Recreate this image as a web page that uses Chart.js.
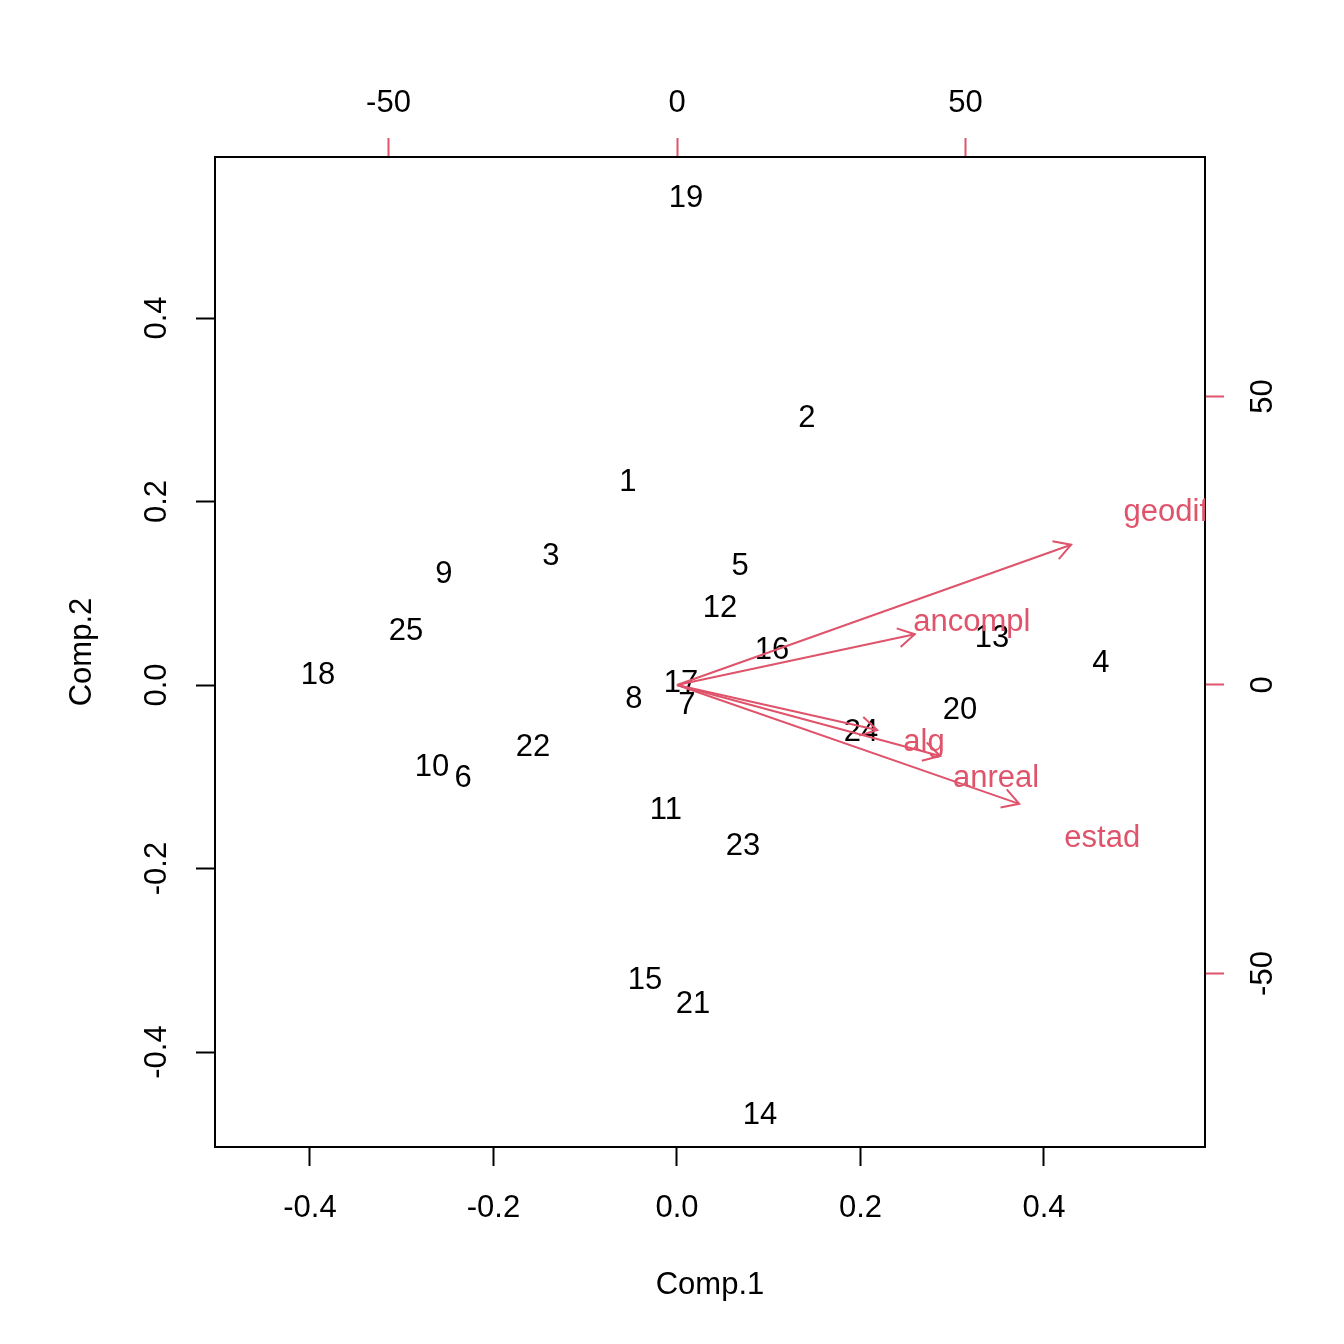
<!DOCTYPE html>
<html>
<head>
<meta charset="utf-8">
<title>biplot</title>
<script src="https://cdn.jsdelivr.net/npm/chart.js@4.4.1/dist/chart.umd.min.js"></script>
<style>
  html, body { margin: 0; padding: 0; background: #fff; }
  canvas { display: block; }
</style>
</head>
<body>
<canvas id="biplot" width="1344" height="1344"></canvas>
<script>
// observation scores (bottom / left axes)
var obsLabels = ['1', '2', '3', '4', '5', '6', '7', '8', '9', '10', '11', '12', '13',
  '14', '15', '16', '17', '18', '19', '20', '21', '22', '23', '24', '25'];
var comp1 = [-0.0534, 0.1417, -0.1373, 0.4621, 0.0687, -0.2332, 0.0109, -0.0469, -0.254,
  -0.267, -0.012, 0.0469, 0.3433, 0.0905, -0.0349, 0.1035, 0.0044, -0.3913, 0.0098,
  0.3084, 0.0174, -0.157, 0.0719, 0.2005, -0.2954];
var comp2 = [0.2234, 0.293, 0.1428, 0.0262, 0.1319, -0.0992, -0.0196, -0.0131, 0.1232,
  -0.0872, -0.134, 0.0861, 0.0534, -0.4665, -0.3193, 0.0403, 0.0044, 0.0131, 0.533,
  -0.0251, -0.3455, -0.0654, -0.1733, -0.049, 0.061];

// variable loadings (top / right axes): arrow tips and label spots
var varNames = ['geodif', 'ancompl', 'alg', 'anreal', 'estad'];
var arrowX = [68.3, 41.2, 34.7, 45.6, 59.3];
var arrowY = [24.3, 8.8, -7.8, -12.3, -20.6];
var varLabelX = [84.7, 51.1, 42.8, 55.3, 73.7];
var varLabelY = [30.3, 11.1, -9.7, -15.9, -26.2];

var compTicks = [-0.4, -0.2, 0, 0.2, 0.4];
var loadTicks = [-50, 0, 50];

var RED = '#DF536B';
var FONT = '"Liberation Sans", Arial, sans-serif';
var FSIZE = 31;

function fixTicks(values) {
  return function (scale) {
    scale.ticks = values.map(function (v) { return { value: v }; });
  };
}

function drawArrowHead(ctx, x0, y0, x1, y1) {
  var ang = Math.atan2(y1 - y0, x1 - x0);
  var len = 19, spread = Math.PI / 6;
  ctx.beginPath();
  ctx.moveTo(x1 - len * Math.cos(ang - spread), y1 - len * Math.sin(ang - spread));
  ctx.lineTo(x1, y1);
  ctx.lineTo(x1 - len * Math.cos(ang + spread), y1 - len * Math.sin(ang + spread));
  ctx.stroke();
}

var biplotText = {
  id: 'biplotText',
  beforeDatasetsDraw(chart) {
    var ctx = chart.ctx;
    var sx = chart.scales.x, sy = chart.scales.y;
    ctx.save();
    ctx.font = FSIZE + 'px ' + FONT;
    ctx.textAlign = 'center';
    ctx.textBaseline = 'middle';
    ctx.fillStyle = '#000';
    for (var i = 0; i < obsLabels.length; i++) {
      ctx.fillText(obsLabels[i], sx.getPixelForValue(comp1[i]), sy.getPixelForValue(comp2[i]) + 2);
    }
    ctx.restore();
  },
  afterDatasetsDraw(chart) {
    var ctx = chart.ctx, a = chart.chartArea;
    var sx = chart.scales.x2, sy = chart.scales.y2;
    var ox = sx.getPixelForValue(0), oy = sy.getPixelForValue(0);
    ctx.save();
    ctx.beginPath();
    ctx.rect(a.left, a.top, a.right - a.left, a.bottom - a.top);
    ctx.clip();
    ctx.strokeStyle = RED;
    ctx.lineWidth = 2;
    for (var i = 0; i < varNames.length; i++) {
      drawArrowHead(ctx, ox, oy, sx.getPixelForValue(arrowX[i]), sy.getPixelForValue(arrowY[i]));
    }
    ctx.font = FSIZE + 'px ' + FONT;
    ctx.textAlign = 'center';
    ctx.textBaseline = 'middle';
    ctx.fillStyle = RED;
    for (var j = 0; j < varNames.length; j++) {
      ctx.fillText(varNames[j], sx.getPixelForValue(varLabelX[j]), sy.getPixelForValue(varLabelY[j]) + 2);
    }
    ctx.restore();
  }
};

var arrowSets = varNames.map(function (name, i) {
  return {
    label: name,
    type: 'line',
    xAxisID: 'x2',
    yAxisID: 'y2',
    data: [{ x: 0, y: 0 }, { x: arrowX[i], y: arrowY[i] }],
    borderColor: RED,
    borderWidth: 2,
    pointRadius: 0,
    fill: false
  };
});

var obsSet = {
  label: 'scores',
  xAxisID: 'x',
  yAxisID: 'y',
  data: comp1.map(function (v, i) { return { x: v, y: comp2[i] }; }),
  pointRadius: 0
};

function axis(pos, min, max, ticks, color, size, pad, title) {
  var horiz = pos === 'top' || pos === 'bottom';
  var opts = {
    type: 'linear',
    position: pos,
    min: min,
    max: max,
    afterBuildTicks: fixTicks(ticks),
    afterFit: function (scale) {
      if (horiz) { scale.height = size; } else { scale.width = size; }
    },
    border: { display: true, color: '#000', width: 2 },
    grid: {
      display: true,
      drawOnChartArea: false,
      drawTicks: true,
      tickLength: 19,
      tickWidth: 2,
      tickColor: color
    },
    ticks: {
      color: '#000',
      font: { family: FONT, size: FSIZE },
      padding: pad,
      autoSkip: false,
      callback: function (v) {
        return ticks === compTicks ? v.toFixed(1) : String(v);
      }
    },
    title: { display: false }
  };
  if (!horiz) {
    opts.ticks.minRotation = 90;
    opts.ticks.maxRotation = 90;
    opts.ticks.crossAlign = 'center';
  }
  if (title) {
    opts.title = {
      display: true,
      text: title.text,
      color: '#000',
      font: { family: FONT, size: FSIZE },
      padding: title.padding
    };
  }
  return opts;
}

Chart.defaults.font.family = FONT;

var chart = new Chart(document.getElementById('biplot'), {
  type: 'scatter',
  data: { datasets: [obsSet].concat(arrowSets) },
  options: {
    responsive: false,
    devicePixelRatio: 1,
    animation: false,
    layout: { padding: 0 },
    plugins: {
      legend: { display: false },
      tooltip: { enabled: false }
    },
    scales: {
      x: axis('bottom', -0.5035, 0.5755, compTicks, '#000', 197, 24,
        { text: 'Comp.1', padding: { top: 0, bottom: 40 } }),
      y: axis('left', -0.5035, 0.5755, compTicks, '#000', 215, 12,
        { text: 'Comp.2', padding: { top: 64, bottom: 0 } }),
      x2: axis('top', -80.07, 91.5, loadTicks, RED, 157, 16, null),
      y2: axis('right', -80.07, 91.5, loadTicks, RED, 139, 17, null)
    }
  },
  plugins: [biplotText]
});
</script>
</body>
</html>
